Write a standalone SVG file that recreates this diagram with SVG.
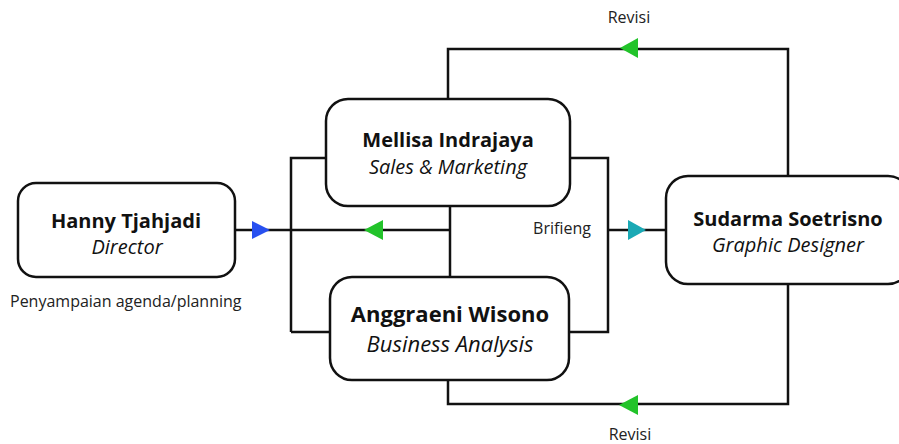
<svg xmlns="http://www.w3.org/2000/svg" width="899" height="444" viewBox="0 0 899 444">
<style>
.box{fill:#fff;stroke:#111;stroke-width:2.5}
.ln{fill:none;stroke:#111;stroke-width:2.5}
.t{font-family:"Open Sans","Noto Sans",sans-serif;fill:#111;text-anchor:middle}
.b{font-weight:bold}
.i{font-style:italic}
.lbl{font-family:"Open Sans","Noto Sans",sans-serif;fill:#222;font-size:16px}
</style>
<rect width="899" height="444" fill="#fff"/>
<g id="connectors">
<path class="ln" d="M235,230 H450"/>
<path class="ln" d="M291,332 V158 H326"/>
<path class="ln" d="M330,332 H291"/>
<path class="ln" d="M570,158 H608 V332 H569"/>
<path class="ln" d="M608,230 H666"/>
<path class="ln" d="M450,206 V277"/>
<path class="ln" d="M448,98 V49 H788 V176"/>
<path class="ln" d="M448,380 V404 H788 V284"/>
<polygon points="252,221 270,230 252,239" fill="#2850f0"/>
<polygon points="364,230 383,220 383,240" fill="#22c32a"/>
<polygon points="628,220 646,230 628,240" fill="#1aa9b5"/>
<polygon points="620,48 638,38 638,58" fill="#22c32a"/>
<polygon points="619,405 638,395 638,415" fill="#22c32a"/>
</g>
<g id="hanny">
<rect class="box" x="18" y="183" width="217" height="94" rx="18"/>
<text class="t b" x="126" y="228" font-size="20">Hanny Tjahjadi</text>
<text class="t i" x="127" y="254" font-size="20">Director</text>
</g>
<g id="mellisa">
<rect class="box" x="326" y="99" width="244" height="107" rx="22"/>
<text class="t b" x="448" y="147" font-size="20">Mellisa Indrajaya</text>
<text class="t i" x="448" y="174" font-size="20">Sales &amp; Marketing</text>
</g>
<g id="anggraeni">
<rect class="box" x="330" y="277" width="239" height="103" rx="22"/>
<text class="t b" x="450" y="322" font-size="22">Anggraeni Wisono</text>
<text class="t i" x="450" y="352" font-size="22">Business Analysis</text>
</g>
<g id="sudarma">
<rect class="box" x="666" y="176" width="244" height="108" rx="22"/>
<text class="t b" x="788" y="226" font-size="20">Sudarma Soetrisno</text>
<text class="t i" x="788" y="252" font-size="20">Graphic Designer</text>
</g>
<text class="lbl" x="10" y="307">Penyampaian agenda/planning</text>
<text class="lbl" x="562" y="234" text-anchor="middle">Brifieng</text>
<text class="lbl" x="629" y="23" text-anchor="middle">Revisi</text>
<text class="lbl" x="630" y="440" text-anchor="middle">Revisi</text>
</svg>
